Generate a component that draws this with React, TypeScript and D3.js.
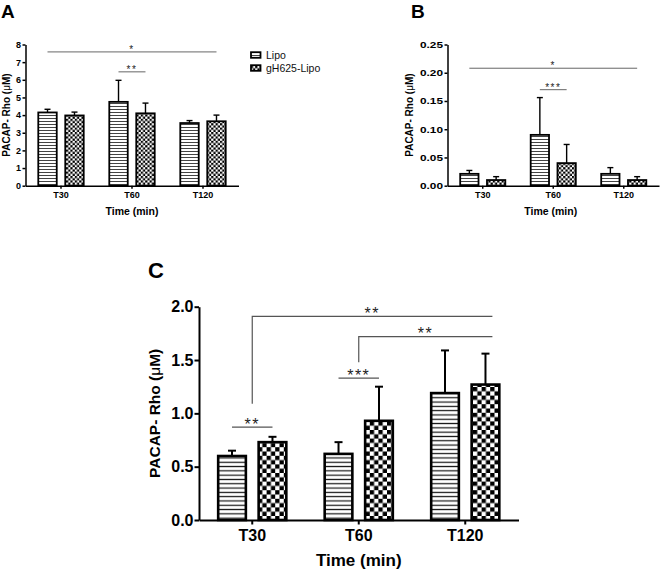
import { useEffect, useRef } from 'react';
import * as d3 from 'd3';

const FONT = "'Liberation Sans', Arial, Helvetica, sans-serif";

const categories = ['T30', 'T60', 'T120'];
const series = ['Lipo', 'gH625-Lipo'];

// Panel A (µM)
const aLipo = [4.15, 4.75, 3.55];
const aLipoSem = [0.18, 1.22, 0.14];
const aGh = [3.98, 4.1, 3.65];
const aGhSem = [0.19, 0.58, 0.35];
const aTicks = [0, 1, 2, 3, 4, 5, 6, 7, 8];

// Panel B
const bLipo = [0.021, 0.09, 0.021];
const bLipoSem = [0.006, 0.066, 0.011];
const bGh = [0.01, 0.04, 0.01];
const bGhSem = [0.006, 0.033, 0.006];
const bTicks = [0, 0.05, 0.1, 0.15, 0.2, 0.25];

// Panel C
const cLipo = [0.6, 0.62, 1.19];
const cLipoSem = [0.05, 0.11, 0.4];
const cGh = [0.73, 0.93, 1.27];
const cGhSem = [0.05, 0.32, 0.29];
const cTicks = [0, 0.5, 1, 1.5, 2];

interface Sig {
  from: string;
  fromS: number;
  to: string;
  toS: number;
  y: number;
  label: string;
}
interface Bracket {
  from: string;
  low: number;
  high: number;
  to: string;
  label: string;
}

const aSig: Sig[] = [
  { from: 'T30', fromS: 0, to: 'T120', toS: 1, y: 7.58, label: '*' },
  { from: 'T60', fromS: 0, to: 'T60', toS: 1, y: 6.45, label: '**' },
];
const bSig: Sig[] = [
  { from: 'T30', fromS: 0, to: 'T120', toS: 1, y: 0.208, label: '*' },
  { from: 'T60', fromS: 0, to: 'T60', toS: 1, y: 0.17, label: '***' },
];
const cSig: Sig[] = [
  { from: 'T30', fromS: 0, to: 'T30', toS: 1, y: 0.87, label: '**' },
  { from: 'T60', fromS: 0, to: 'T60', toS: 1, y: 1.33, label: '***' },
];
const cBrackets: Bracket[] = [
  { from: 'T30', low: 1.09, high: 1.91, to: 'T120', label: '**' },
  { from: 'T60', low: 1.48, high: 1.72, to: 'T120', label: '**' },
];

function drawPanel(svg: any, p: any) {
  const g = svg.append('g');

  const x = d3.scaleBand().domain(categories).range([p.x0, p.x1]);
  const xs = d3
    .scaleBand()
    .domain(series)
    .range([0, x.bandwidth()])
    .paddingInner(0.316)
    .paddingOuter(0.474);
  const y = d3.scaleLinear().domain([0, p.yMax]).range([p.yBottom, p.yTop]);

  const rows = categories.flatMap((c, i) => [
    { cat: c, s: 0, v: p.lipo[i], e: p.lipoSem[i] },
    { cat: c, s: 1, v: p.gh[i], e: p.ghSem[i] },
  ]);
  const barX = (cat: string, s: number) => (x(cat) || 0) + (xs(series[s]) || 0);
  const barMid = (cat: string, s: number) => barX(cat, s) + xs.bandwidth() / 2;

  // error bars (upper only)
  g.selectAll('.err')
    .data(rows)
    .join('line')
    .attr('x1', (d: any) => barMid(d.cat, d.s))
    .attr('x2', (d: any) => barMid(d.cat, d.s))
    .attr('y1', (d: any) => y(d.v))
    .attr('y2', (d: any) => y(d.v + d.e))
    .attr('stroke', '#000')
    .attr('stroke-width', p.errStroke);
  g.selectAll('.cap')
    .data(rows)
    .join('line')
    .attr('x1', (d: any) => barMid(d.cat, d.s) - p.cap / 2)
    .attr('x2', (d: any) => barMid(d.cat, d.s) + p.cap / 2)
    .attr('y1', (d: any) => y(d.v + d.e))
    .attr('y2', (d: any) => y(d.v + d.e))
    .attr('stroke', '#000')
    .attr('stroke-width', p.errStroke);

  // bars
  g.selectAll('.bar')
    .data(rows)
    .join('rect')
    .attr('x', (d: any) => barX(d.cat, d.s))
    .attr('y', (d: any) => y(d.v))
    .attr('width', xs.bandwidth())
    .attr('height', (d: any) => y(0) - y(d.v))
    .attr('fill', (d: any) => `url(#${d.s === 0 ? p.stripeId : p.checkId})`)
    .attr('stroke', '#000')
    .attr('stroke-width', p.barStroke);

  // axes
  const yAxis = g
    .append('g')
    .attr('transform', `translate(${p.x0},0)`)
    .call(
      d3.axisLeft(y).tickValues(p.ticks).tickFormat(p.fmt).tickSize(p.tick).tickSizeOuter(0).tickPadding(p.yPad)
    );
  const xAxis = g
    .append('g')
    .attr('transform', `translate(0,${p.yBottom})`)
    .call(d3.axisBottom(x).tickSize(p.tick).tickSizeOuter(0).tickPadding(p.xPad));

  [yAxis, xAxis].forEach((ax) => {
    ax.attr('font-family', FONT).attr('font-size', p.tickFont).attr('font-weight', 'bold');
    ax.selectAll('.domain, .tick line').attr('stroke', '#000').attr('stroke-width', p.axisStroke);
    ax.selectAll('text').attr('fill', '#000');
  });
  if (p.yTextLength) {
    yAxis.selectAll('text').attr('textLength', p.yTextLength).attr('lengthAdjust', 'spacingAndGlyphs');
  }

  // significance lines
  p.sig.forEach((s: Sig) => {
    const xa = barMid(s.from, s.fromS);
    const xb = barMid(s.to, s.toS);
    g.append('line')
      .attr('x1', xa)
      .attr('x2', xb)
      .attr('y1', y(s.y))
      .attr('y2', y(s.y))
      .attr('stroke', '#555')
      .attr('stroke-width', p.sigStroke);
    g.append('text')
      .attr('x', (xa + xb) / 2)
      .attr('y', y(s.y) + p.starDy)
      .attr('text-anchor', 'middle')
      .attr('font-family', FONT)
      .attr('font-size', p.starFont)
      .attr('letter-spacing', p.starSpacing)
      .attr('fill', '#222')
      .text(s.label);
  });

  p.brackets.forEach((b: Bracket) => {
    const xa = (x(b.from) || 0) + x.bandwidth() / 2;
    const xb = barX(b.to, 1) + xs.bandwidth() * 0.75;
    g.append('path')
      .attr('d', `M${xa},${y(b.low)}V${y(b.high)}H${xb}`)
      .attr('fill', 'none')
      .attr('stroke', '#555')
      .attr('stroke-width', p.sigStroke);
    g.append('text')
      .attr('x', (xa + xb) / 2)
      .attr('y', y(b.high) + p.starDy)
      .attr('text-anchor', 'middle')
      .attr('font-family', FONT)
      .attr('font-size', p.starFont)
      .attr('letter-spacing', p.starSpacing)
      .attr('fill', '#222')
      .text(b.label);
  });

  // axis titles
  g.append('text')
    .attr('x', (p.x0 + p.xTitleRef) / 2)
    .attr('y', p.xTitleY)
    .attr('text-anchor', 'middle')
    .attr('font-family', FONT)
    .attr('font-size', p.xTitleFont)
    .attr('font-weight', 'bold')
    .text('Time (min)');

  const yt = g
    .append('text')
    .attr('transform', `translate(${p.yTitleX},${(p.yBottom + p.yTop) / 2}) rotate(-90)`)
    .attr('text-anchor', 'middle')
    .attr('font-family', FONT)
    .attr('font-size', p.titleFont)
    .attr('font-weight', 'bold');
  yt.append('tspan').text('PACAP- Rho (');
  yt.append('tspan').attr('font-weight', 'normal').text('μ');
  yt.append('tspan').text('M)');

  g.append('text')
    .attr('x', p.letterX)
    .attr('y', p.letterY)
    .attr('font-family', FONT)
    .attr('font-size', p.letterSize)
    .attr('font-weight', 'bold')
    .text(p.letter);
}

export default function App() {
  const svgRef = useRef<SVGSVGElement>(null);

  useEffect(() => {
    document.body.style.margin = '0';
    if (!svgRef.current) return;
    const svg = d3.select(svgRef.current);
    svg.selectAll('*').remove();

    const defs = svg.append('defs');
    const stripe = (id: string, h: number, lw: number, color: string) => {
      const pat = defs
        .append('pattern')
        .attr('id', id)
        .attr('patternUnits', 'userSpaceOnUse')
        .attr('width', 6)
        .attr('height', h);
      pat.append('rect').attr('width', 6).attr('height', h).attr('fill', '#fff');
      pat.append('rect').attr('y', (h - lw) / 2).attr('width', 6).attr('height', lw).attr('fill', color);
    };
    const check = (id: string, s: number) => {
      const pat = defs
        .append('pattern')
        .attr('id', id)
        .attr('patternUnits', 'userSpaceOnUse')
        .attr('width', s * 2)
        .attr('height', s * 2);
      pat.append('rect').attr('width', s * 2).attr('height', s * 2).attr('fill', '#fff');
      pat.append('rect').attr('width', s).attr('height', s).attr('fill', '#000');
      pat.append('rect').attr('x', s).attr('y', s).attr('width', s).attr('height', s).attr('fill', '#000');
    };
    stripe('stripeS', 3, 1, '#444');
    check('checkS', 2.2);
    stripe('stripeL', 4.3, 1.2, '#111');
    check('checkL', 4.3);

    const small = {
      tick: 3,
      yPad: 1.5,
      xPad: 3,
      tickFont: 9,
      titleFont: 10,
      xTitleFont: 10.5,
      axisStroke: 1.5,
      barStroke: 1.8,
      errStroke: 1.4,
      cap: 6,
      sigStroke: 0.9,
      starFont: 10,
      starSpacing: 1.5,
      starDy: 1,
      stripeId: 'stripeS',
      checkId: 'checkS',
      brackets: [],
      yBottom: 185.7,
      yTop: 44.5,
      xTitleY: 215,
      letterSize: 19,
      letterY: 18,
    };

    drawPanel(svg, {
      ...small,
      letter: 'A',
      letterX: 1,
      x0: 25.5,
      x1: 238.5,
      xTitleRef: 238.5,
      yMax: 8,
      ticks: aTicks,
      fmt: d3.format('d'),
      lipo: aLipo,
      lipoSem: aLipoSem,
      gh: aGh,
      ghSem: aGhSem,
      sig: aSig,
      yTitleX: 9.5,
    });

    drawPanel(svg, {
      ...small,
      letter: 'B',
      letterX: 411,
      x0: 447.5,
      x1: 659,
      xTitleRef: 654,
      yMax: 0.25,
      ticks: bTicks,
      fmt: d3.format('.2f'),
      yTextLength: 23,
      lipo: bLipo,
      lipoSem: bLipoSem,
      gh: bGh,
      ghSem: bGhSem,
      sig: bSig,
      yTitleX: 412.5,
    });

    drawPanel(svg, {
      tick: 4.5,
      yPad: 1,
      xPad: 5.5,
      tickFont: 16,
      titleFont: 15.5,
      xTitleFont: 17,
      axisStroke: 2,
      barStroke: 2.6,
      errStroke: 2,
      cap: 8,
      sigStroke: 1.2,
      starFont: 16,
      starSpacing: 1.5,
      starDy: 2.5,
      stripeId: 'stripeL',
      checkId: 'checkL',
      letter: 'C',
      letterX: 148,
      letterY: 278,
      letterSize: 22,
      x0: 199,
      x1: 518.5,
      xTitleRef: 518.5,
      yBottom: 520,
      yTop: 306.7,
      xTitleY: 566,
      yMax: 2,
      ticks: cTicks,
      fmt: d3.format('.1f'),
      lipo: cLipo,
      lipoSem: cLipoSem,
      gh: cGh,
      ghSem: cGhSem,
      sig: cSig,
      brackets: cBrackets,
      yTitleX: 160,
    });

    // legend
    const legendY = [55, 68];
    const leg = svg.append('g');
    series.forEach((name, i) => {
      leg.append('rect')
        .attr('x', 251)
        .attr('y', legendY[i] - 2.8)
        .attr('width', 9.5)
        .attr('height', 5.6)
        .attr('fill', i === 0 ? 'url(#stripeS)' : 'url(#checkS)')
        .attr('stroke', '#000')
        .attr('stroke-width', 1.8);
      leg.append('text')
        .attr('x', 266)
        .attr('y', legendY[i] + 3.8)
        .attr('font-family', FONT)
        .attr('font-size', 10.5)
        .attr('fill', '#111')
        .text(name);
    });
  }, []);

  return <svg ref={svgRef} width={660} height={570} style={{ display: 'block', background: '#fff' }} />;
}
